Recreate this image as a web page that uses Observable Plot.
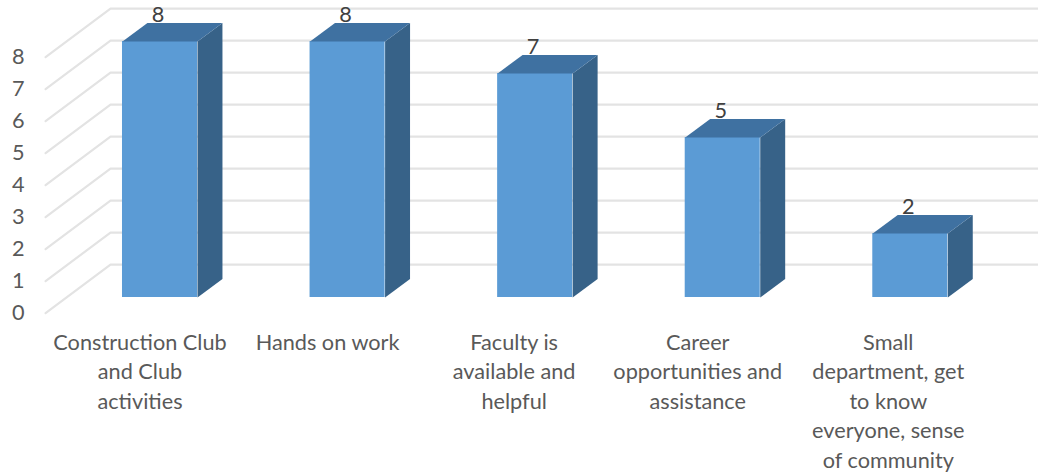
<!DOCTYPE html>
<html>
<head>
<meta charset="utf-8">
<script src="https://cdn.jsdelivr.net/npm/d3@7"></script>
<script src="https://cdn.jsdelivr.net/npm/@observablehq/plot@0.6"></script>
<style>
  html, body { margin: 0; padding: 0; background: #fff; }
  svg { display: block; }
</style>
</head>
<body>
<div id="chart"></div>
<script>
// Survey responses: what students value about the program
const categories = [
  "Construction Club\nand Club\nactivities",
  "Hands on work",
  "Faculty is\navailable and\nhelpful",
  "Career\nopportunities and\nassistance",
  "Small\ndepartment, get\nto know\neveryone, sense\nof community"
];
const counts = [8, 8, 7, 5, 2];
const gridValues = [0, 1, 2, 3, 4, 5, 6, 7, 8];

// Oblique projection, expressed in the units of the two scales
const barHalf = 0.2;          // half a column's width, in category steps
const depthX = 0.133;         // column depth, sideways shift
const depthY = 0.58;          // column depth, upward shift
const floorFront = -0.49;     // front edge of the floor, in value units
const wallRise = 1.03;        // back wall base relative to the baseline
const gridStart = -0.61;      // front end of the floor lines
const wallStart = -0.264;     // where the floor meets the wall
const gridEnd = 4.68;         // right end of the wall lines

// Horizontal nudge of each category label, in pixels
const labelShift = [-20, -20, -21, -25, -22];

const rows = counts.map((v, i) => ({i, v}));

const gridPoints = gridValues.flatMap(v => [
  {v, x: gridStart, y: v + floorFront},
  {v, x: wallStart, y: v + wallRise},
  {v, x: gridEnd, y: v + wallRise}
]);

const sideFaces = rows.flatMap(({i, v}) => {
  const r = i + barHalf;
  return [
    {i, x: r, y: 0},
    {i, x: r + depthX, y: depthY},
    {i, x: r + depthX, y: v + depthY},
    {i, x: r, y: v}
  ];
});

const topFaces = rows.flatMap(({i, v}) => {
  const l = i - barHalf, r = i + barHalf;
  return [
    {i, x: l, y: v},
    {i, x: r, y: v},
    {i, x: r + depthX, y: v + depthY},
    {i, x: l + depthX, y: v + depthY}
  ];
});

const textFont = "Lato, 'Open Sans', sans-serif";
const textSize = 21.7;

const chart = Plot.plot({
  width: 1038,
  height: 474,
  marginLeft: 24,
  marginRight: 0,
  marginTop: 0,
  marginBottom: 144,
  style: {background: "#fff", fontFamily: textFont, fontSize: textSize + "px", color: "#595959"},
  x: {domain: [0, 4], range: [159.5, 909.8], axis: null},
  y: {domain: [0, 8], range: [297, 41], axis: null},
  marks: [
    Plot.line(gridPoints, {x: "x", y: "y", z: "v", stroke: "#e3e3e3", strokeWidth: 2.2}),
    Plot.axisY({
      ticks: gridValues,
      tickSize: 0,
      tickPadding: 0,
      dy: 15.5,
      label: null,
      fill: "#595959",
      fontSize: textSize
    }),
    ...rows.map(({i}) => Plot.axisX({
      ticks: [i],
      tickFormat: t => categories[t],
      tickSize: 0,
      tickPadding: 0,
      dx: labelShift[i],
      dy: -2,
      label: null,
      fill: "#595959",
      fontSize: textSize,
      lineHeight: 1.365,
      lineWidth: 30
    })),
    Plot.rect(rows, {
      x1: d => d.i - barHalf,
      x2: d => d.i + barHalf,
      y1: 0,
      y2: "v",
      fill: "#5b9bd5"
    }),
    Plot.line(sideFaces, {x: "x", y: "y", z: "i", fill: "#376288", stroke: "none"}),
    Plot.line(topFaces, {x: "x", y: "y", z: "i", fill: "#3f71a1", stroke: "none"}),
    Plot.text(rows, {
      x: "i",
      y: d => d.v + depthY,
      text: "v",
      dx: -2,
      dy: -8,
      fill: "#404040",
      fontSize: textSize
    })
  ]
});

document.getElementById("chart").append(chart);
</script>
</body>
</html>
